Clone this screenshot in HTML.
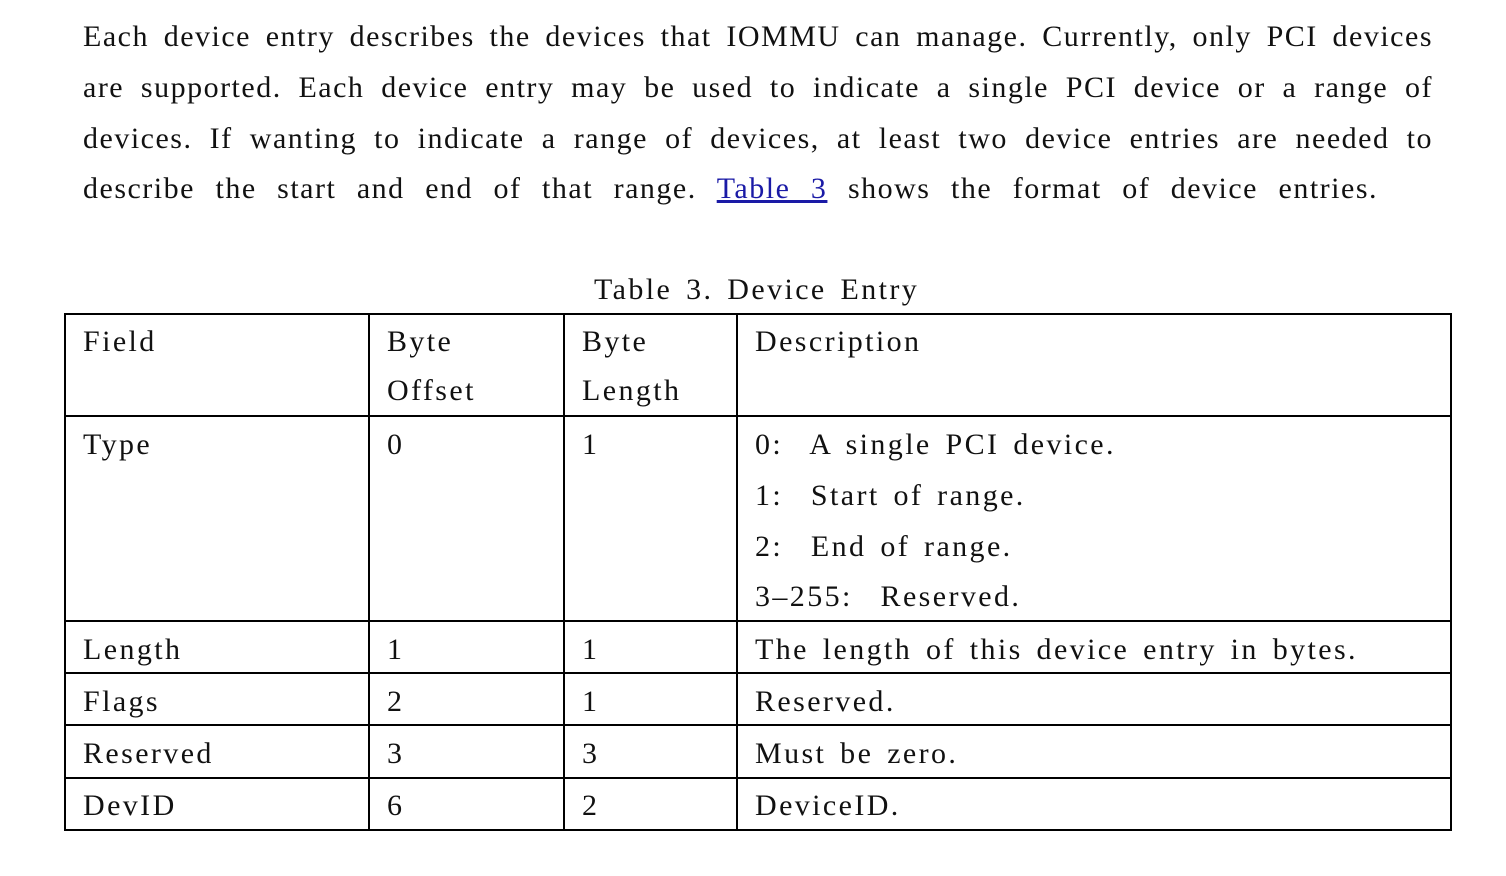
<!DOCTYPE html>
<html><head><meta charset="utf-8"><style>
body{margin:0;width:1506px;height:876px;background:#fff;position:relative;overflow:hidden;font-family:"Liberation Serif","Noto Serif CJK SC",serif;color:#111;}
.t{position:absolute;font-size:30px;line-height:30px;white-space:nowrap;letter-spacing:2.4px;}
.j{position:absolute;left:83px;width:1350px;font-size:30px;line-height:30px;text-align:justify;text-align-last:justify;white-space:nowrap;letter-spacing:1.5px;}
a{color:#1a1aa6;text-decoration:underline;}
.h{position:absolute;background:#000;height:2px;}
.v{position:absolute;background:#000;width:2px;}
</style></head><body>
<div class="j" style="top:22px">Each device entry describes the devices that IOMMU can manage. Currently, only PCI devices</div>
<div class="j" style="top:73px">are supported. Each device entry may be used to indicate a single PCI device or a range of</div>
<div class="j" style="top:124px">devices. If wanting to indicate a range of devices, at least two device entries are needed to</div>
<div class="j" style="top:174px;width:1295px">describe the start and end of that range. <a>Table 3</a> shows the format of device entries.</div>

<div class="t" style="top:275px;left:594px;word-spacing:4px">Table 3. Device Entry</div>

<div class="h" style="left:64px;width:1388px;top:313px"></div>
<div class="h" style="left:64px;width:1388px;top:415px"></div>
<div class="h" style="left:64px;width:1388px;top:620px"></div>
<div class="h" style="left:64px;width:1388px;top:672px"></div>
<div class="h" style="left:64px;width:1388px;top:724px"></div>
<div class="h" style="left:64px;width:1388px;top:777px"></div>
<div class="h" style="left:64px;width:1388px;top:829px"></div>
<div class="v" style="top:313px;height:518px;left:64px"></div>
<div class="v" style="top:313px;height:518px;left:368px"></div>
<div class="v" style="top:313px;height:518px;left:563px"></div>
<div class="v" style="top:313px;height:518px;left:736px"></div>
<div class="v" style="top:313px;height:518px;left:1450px"></div>

<div class="t" style="top:327px;left:83px">Field</div>
<div class="t" style="top:327px;left:387px">Byte</div>
<div class="t" style="top:376px;left:387px">Offset</div>
<div class="t" style="top:327px;left:582px">Byte</div>
<div class="t" style="top:376px;left:582px">Length</div>
<div class="t" style="top:327px;left:755px">Description</div>

<div class="t" style="top:430px;left:83px">Type</div>
<div class="t" style="top:430px;left:387px">0</div>
<div class="t" style="top:430px;left:582px">1</div>
<div class="t" style="top:430px;left:755px;word-spacing:4px">0:&nbsp; A single PCI device.</div>
<div class="t" style="top:481px;left:755px;word-spacing:4px">1:&nbsp; Start of range.</div>
<div class="t" style="top:532px;left:755px;word-spacing:4px">2:&nbsp; End of range.</div>
<div class="t" style="top:582px;left:755px;word-spacing:4px">3–255:&nbsp; Reserved.</div>

<div class="t" style="top:635px;left:83px">Length</div>
<div class="t" style="top:635px;left:387px">1</div>
<div class="t" style="top:635px;left:582px">1</div>
<div class="t" style="top:635px;left:755px;word-spacing:4px">The length of this device entry in bytes.</div>

<div class="t" style="top:687px;left:83px">Flags</div>
<div class="t" style="top:687px;left:387px">2</div>
<div class="t" style="top:687px;left:582px">1</div>
<div class="t" style="top:687px;left:755px">Reserved.</div>

<div class="t" style="top:739px;left:83px">Reserved</div>
<div class="t" style="top:739px;left:387px">3</div>
<div class="t" style="top:739px;left:582px">3</div>
<div class="t" style="top:739px;left:755px;word-spacing:4px">Must be zero.</div>

<div class="t" style="top:791px;left:83px">DevID</div>
<div class="t" style="top:791px;left:387px">6</div>
<div class="t" style="top:791px;left:582px">2</div>
<div class="t" style="top:791px;left:755px">DeviceID.</div>
</body></html>
